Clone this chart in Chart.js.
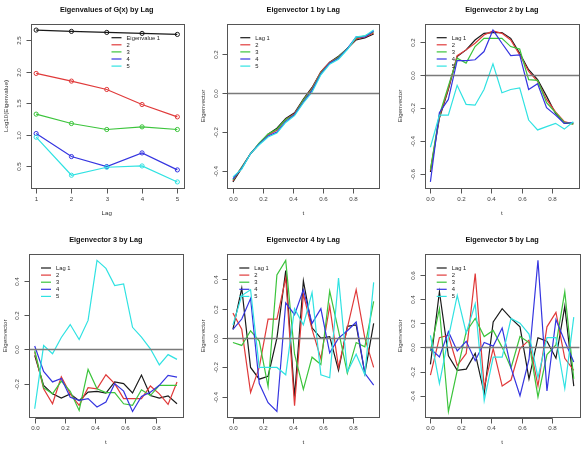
<!DOCTYPE html>
<html>
<head>
<meta charset="utf-8">
<script src="https://cdn.jsdelivr.net/npm/chart.js@4/dist/chart.umd.min.js"></script>
<style>
    body { margin: 0; background: #ffffff; }
    #board { position: relative; width: 582px; height: 450px; overflow: hidden; background: #ffffff; }
    #board canvas { position: absolute; }
</style>
</head>
<body>
<div id="board"></div>
<script>
// Data
const lagLabels = ['Lag 1', '2', '3', '4', '5'];
const eigenLabels = ['Eigenvalue 1', '2', '3', '4', '5'];
const lagColors = ['#1a1a1a', '#e03a3a', '#3cc43c', '#3535e0', '#30e2e2'];

const lagValues = [1, 2, 3, 4, 5];
const logEigen1 = [2.664, 2.643, 2.627, 2.611, 2.595];
const logEigen2 = [1.975, 1.853, 1.720, 1.481, 1.285];
const logEigen3 = [1.328, 1.179, 1.084, 1.126, 1.084];
const logEigen4 = [1.020, 0.654, 0.495, 0.712, 0.442];
const logEigen5 = [0.962, 0.357, 0.484, 0.505, 0.251];

const tValues = [0.000, 0.059, 0.118, 0.176, 0.235, 0.294, 0.353, 0.412, 0.471,
                 0.529, 0.588, 0.647, 0.706, 0.765, 0.824, 0.882, 0.941];

const vector1ByLag = [
    [-0.456, -0.385, -0.31, -0.26, -0.21, -0.18, -0.13, -0.10, -0.03, 0.03, 0.11, 0.16, 0.19, 0.23, 0.275, 0.285, 0.305],
    [-0.450, -0.380, -0.31, -0.26, -0.215, -0.19, -0.135, -0.105, -0.035, 0.025, 0.11, 0.16, 0.185, 0.23, 0.28, 0.29, 0.31],
    [-0.445, -0.380, -0.31, -0.255, -0.21, -0.185, -0.135, -0.11, -0.035, 0.02, 0.105, 0.155, 0.185, 0.23, 0.285, 0.295, 0.315],
    [-0.440, -0.385, -0.31, -0.26, -0.22, -0.20, -0.145, -0.11, -0.045, 0.015, 0.10, 0.155, 0.18, 0.23, 0.29, 0.29, 0.32],
    [-0.430, -0.390, -0.31, -0.265, -0.225, -0.205, -0.15, -0.115, -0.05, 0.005, 0.095, 0.15, 0.175, 0.225, 0.29, 0.295, 0.325]
];
const vector2ByLag = [
    [-0.59, -0.265, -0.09, 0.11, 0.15, 0.21, 0.25, 0.255, 0.255, 0.22, 0.13, 0.03, -0.03, -0.13, -0.235, -0.295, -0.295],
    [-0.58, -0.255, -0.085, 0.115, 0.15, 0.19, 0.24, 0.265, 0.25, 0.21, 0.12, 0.02, -0.04, -0.15, -0.225, -0.285, -0.30],
    [-0.575, -0.245, -0.07, 0.10, 0.07, 0.17, 0.22, 0.22, 0.22, 0.17, 0.155, -0.03, -0.035, -0.17, -0.23, -0.29, -0.30],
    [-0.65, -0.23, -0.15, 0.085, 0.085, 0.09, 0.14, 0.27, 0.19, 0.115, 0.12, -0.09, -0.055, -0.20, -0.245, -0.295, -0.29],
    [-0.44, -0.245, -0.245, -0.065, -0.18, -0.185, -0.09, 0.065, -0.11, -0.09, -0.08, -0.275, -0.335, -0.315, -0.295, -0.33, -0.285]
];
const vector3ByLag = [
    [-0.035, -0.21, -0.26, -0.285, -0.26, -0.30, -0.25, -0.245, -0.255, -0.19, -0.20, -0.255, -0.15, -0.27, -0.285, -0.272, -0.318],
    [-0.015, -0.23, -0.318, -0.16, -0.26, -0.327, -0.224, -0.23, -0.148, -0.20, -0.288, -0.288, -0.288, -0.214, -0.26, -0.322, -0.19],
    [-0.006, -0.224, -0.26, -0.185, -0.245, -0.357, -0.117, -0.23, -0.253, -0.253, -0.318, -0.327, -0.236, -0.27, -0.21, -0.21, -0.21],
    [0.02, -0.129, -0.19, -0.17, -0.28, -0.298, -0.288, -0.337, -0.308, -0.20, -0.244, -0.363, -0.275, -0.25, -0.21, -0.152, -0.162],
    [-0.347, 0.023, -0.025, 0.07, 0.146, 0.058, 0.17, 0.522, 0.475, 0.374, 0.384, 0.13, 0.072, 0.004, -0.09, -0.03, -0.058]
];
const vector4ByLag = [
    [0.06, 0.34, -0.20, -0.28, -0.26, 0.00, 0.46, -0.40, 0.39, 0.07, 0.00, 0.01, -0.22, 0.08, 0.09, -0.24, 0.10],
    [0.17, 0.06, -0.37, -0.20, 0.13, 0.13, 0.41, -0.46, 0.30, 0.06, -0.14, 0.22, -0.20, 0.07, 0.33, 0.00, -0.20],
    [-0.03, -0.05, 0.05, -0.02, -0.33, 0.43, 0.53, -0.11, -0.35, -0.13, -0.18, 0.32, 0.05, -0.24, -0.03, -0.06, 0.25],
    [0.06, 0.13, 0.27, -0.31, -0.44, -0.50, 0.24, 0.16, 0.33, 0.10, 0.20, -0.10, 0.00, 0.05, 0.11, -0.24, -0.32],
    [0.09, 0.29, 0.33, -0.20, -0.20, -0.20, -0.25, 0.20, 0.09, 0.31, -0.25, -0.27, 0.41, -0.23, -0.11, -0.25, 0.38]
];
const vector5ByLag = [
    [-0.14, 0.46, -0.07, -0.19, -0.18, -0.05, -0.38, 0.21, 0.32, 0.24, 0.17, -0.26, 0.08, 0.05, -0.09, 0.34, -0.32],
    [-0.23, 0.08, 0.10, -0.15, -0.05, 0.61, -0.33, -0.01, -0.32, -0.27, -0.01, 0.06, -0.32, 0.17, 0.29, -0.09, -0.19],
    [-0.03, 0.32, -0.53, -0.19, 0.13, 0.24, 0.09, 0.14, 0.00, -0.17, 0.09, 0.04, -0.41, -0.06, 0.02, 0.46, -0.26],
    [-0.01, -0.08, 0.13, -0.03, 0.05, -0.11, 0.04, 0.01, 0.16, -0.17, -0.40, -0.10, 0.72, -0.36, 0.23, 0.05, -0.12],
    [0.10, -0.30, 0.08, 0.43, 0.12, 0.36, -0.44, -0.08, -0.08, 0.24, 0.20, 0.11, -0.25, 0.08, 0.08, -0.34, 0.25]
];

// Tick labels
const lagTicks = [1, 2, 3, 4, 5];
const logEigenTicks = [0.5, 1.0, 1.5, 2.0, 2.5];
const tTicks = [0.0, 0.2, 0.4, 0.6, 0.8];
const vector1Ticks = [-0.4, -0.2, 0.0, 0.2];
const vector2Ticks = [-0.6, -0.4, -0.2, 0.0, 0.2];
const vector3Ticks = [-0.2, 0.0, 0.2, 0.4];
const vector4Ticks = [-0.4, -0.2, 0.0, 0.2, 0.4];
const vector5Ticks = [-0.4, -0.2, 0.0, 0.2, 0.4, 0.6];

const FONT = '"Liberation Sans", Arial, Helvetica, sans-serif';

// R style range: data range stretched by 4% on each side
function rRange(values) {
    const lo = Math.min(...values);
    const hi = Math.max(...values);
    const pad = (hi - lo) * 0.04;
    return [lo - pad, hi + pad];
}

function makeRPlugin(panel) {
    return {
        id: 'rStyle',
        afterDatasetsDraw(chart) {
            if (!panel.zeroLine) return;
            const ctx = chart.ctx;
            const area = chart.chartArea;
            const y = Math.round(chart.scales.y.getPixelForValue(0)) + 0.5;
            ctx.save();
            ctx.strokeStyle = '#7a7a7a';
            ctx.lineWidth = 1.6;
            ctx.beginPath();
            ctx.moveTo(area.left, y);
            ctx.lineTo(area.right, y);
            ctx.stroke();
            ctx.restore();
        },
        afterDraw(chart) {
            const ctx = chart.ctx;
            const area = chart.chartArea;
            const xs = chart.scales.x;
            const ys = chart.scales.y;
            ctx.save();

            // box
            ctx.strokeStyle = '#555';
            ctx.lineWidth = 1;
            ctx.strokeRect(Math.round(area.left) + 0.5, Math.round(area.top) + 0.5,
                Math.round(area.right - area.left), Math.round(area.bottom - area.top));

            // bottom axis
            const by = Math.round(area.bottom) + 0.5;
            const xPix = panel.xTicks.map(v => Math.round(xs.getPixelForValue(v)) + 0.5);
            ctx.beginPath();
            ctx.moveTo(xPix[0], by);
            ctx.lineTo(xPix[xPix.length - 1], by);
            xPix.forEach(px => { ctx.moveTo(px, by); ctx.lineTo(px, by + 5); });
            ctx.stroke();
            ctx.fillStyle = '#444';
            ctx.font = '6.2px ' + FONT;
            ctx.textAlign = 'center';
            ctx.textBaseline = 'middle';
            panel.xTicks.forEach((v, i) => ctx.fillText(panel.xFmt(v), xPix[i], area.bottom + 11));

            // left axis
            const lx = Math.round(area.left) + 0.5;
            const yPix = panel.yTicks.map(v => Math.round(ys.getPixelForValue(v)) + 0.5);
            ctx.beginPath();
            ctx.moveTo(lx, yPix[0]);
            ctx.lineTo(lx, yPix[yPix.length - 1]);
            yPix.forEach(py => { ctx.moveTo(lx, py); ctx.lineTo(lx - 5, py); });
            ctx.stroke();
            panel.yTicks.forEach((v, i) => {
                ctx.save();
                ctx.translate(area.left - 11.5, yPix[i]);
                ctx.rotate(-Math.PI / 2);
                ctx.fillText(v.toFixed(1), 0, 0);
                ctx.restore();
            });

            // axis titles
            ctx.fillStyle = '#333';
            ctx.fillText(panel.xTitle, (area.left + area.right) / 2, area.bottom + 25);
            ctx.save();
            ctx.translate(area.left - 24, (area.top + area.bottom) / 2);
            ctx.rotate(-Math.PI / 2);
            ctx.fillText(panel.yTitle, 0, 0);
            ctx.restore();

            // main title
            ctx.fillStyle = '#111';
            ctx.font = 'bold 7.3px ' + FONT;
            ctx.fillText(panel.title, (area.left + area.right) / 2, area.top - 14);

            // legend (no box)
            ctx.font = '5.8px ' + FONT;
            ctx.textAlign = 'left';
            panel.legend.forEach((label, i) => {
                const y = area.top + 13.7 + i * 7.1;
                const x0 = area.left + panel.legendX;
                ctx.strokeStyle = lagColors[i];
                ctx.lineWidth = 1.2;
                ctx.beginPath();
                ctx.moveTo(x0, y);
                ctx.lineTo(x0 + 10, y);
                ctx.stroke();
                ctx.fillStyle = '#222';
                ctx.fillText(label, x0 + 15, y + 0.3);
            });
            ctx.restore();
        }
    };
}

const panels = [
    {
        left: 0, top: 0, pad: { left: 30.5, top: 24, right: 11, bottom: 37 },
        title: 'Eigenvalues of G(x) by Lag', xTitle: 'Lag', yTitle: 'Log10(Eigenvalue)',
        x: lagValues, series: [logEigen1, logEigen2, logEigen3, logEigen4, logEigen5],
        xTicks: lagTicks, yTicks: logEigenTicks, xFmt: v => String(v),
        legend: eigenLabels, legendX: 81, points: true, zeroLine: false
    },
    {
        left: 194, top: 0, pad: { left: 33.3, top: 24, right: 8.7, bottom: 37 },
        title: 'Eigenvector 1 by Lag', xTitle: 't', yTitle: 'Eigenvector',
        x: tValues, series: vector1ByLag,
        xTicks: tTicks, yTicks: vector1Ticks, xFmt: v => v.toFixed(1),
        legend: lagLabels, legendX: 13, points: false, zeroLine: true
    },
    {
        left: 388, top: 0, pad: { left: 36.7, top: 24, right: 3, bottom: 37 },
        title: 'Eigenvector 2 by Lag', xTitle: 't', yTitle: 'Eigenvector',
        x: tValues, series: vector2ByLag,
        xTicks: tTicks, yTicks: vector2Ticks, xFmt: v => v.toFixed(1),
        legend: lagLabels, legendX: 12, points: false, zeroLine: true
    },
    {
        left: 0, top: 225, pad: { left: 29, top: 29.3, right: 11.3, bottom: 32.5 },
        title: 'Eigenvector 3 by Lag', xTitle: 't', yTitle: 'Eigenvector',
        x: tValues, series: vector3ByLag,
        xTicks: tTicks, yTicks: vector3Ticks, xFmt: v => v.toFixed(1),
        legend: lagLabels, legendX: 12, points: false, zeroLine: true
    },
    {
        left: 194, top: 225, pad: { left: 33.3, top: 29.3, right: 8.7, bottom: 32.5 },
        title: 'Eigenvector 4 by Lag', xTitle: 't', yTitle: 'Eigenvector',
        x: tValues, series: vector4ByLag,
        xTicks: tTicks, yTicks: vector4Ticks, xFmt: v => v.toFixed(1),
        legend: lagLabels, legendX: 12, points: false, zeroLine: true
    },
    {
        left: 388, top: 225, pad: { left: 36.7, top: 29.3, right: 2.5, bottom: 32.5 },
        title: 'Eigenvector 5 by Lag', xTitle: 't', yTitle: 'Eigenvector',
        x: tValues, series: vector5ByLag,
        xTicks: tTicks, yTicks: vector5Ticks, xFmt: v => v.toFixed(1),
        legend: lagLabels, legendX: 12, points: false, zeroLine: true
    }
];

function buildPanel(panel) {
    const canvas = document.createElement('canvas');
    canvas.width = 194;
    canvas.height = 225;
    canvas.style.left = panel.left + 'px';
    canvas.style.top = panel.top + 'px';
    document.getElementById('board').appendChild(canvas);

    const xRange = rRange(panel.x);
    const yRange = rRange(panel.series.flat());

    const datasets = panel.series.map((values, i) => ({
        label: panel.legend[i],
        data: values.map((v, k) => ({ x: panel.x[k], y: v })),
        borderColor: lagColors[i],
        backgroundColor: 'rgba(0,0,0,0)',
        borderWidth: 1.2,
        tension: 0,
        pointRadius: panel.points ? 2.1 : 0,
        pointBorderWidth: 1,
        pointBorderColor: lagColors[i],
        pointBackgroundColor: 'rgba(0,0,0,0)',
        order: -i
    }));

    new Chart(canvas.getContext('2d'), {
        type: 'line',
        data: { datasets: datasets },
        options: {
            responsive: false,
            animation: false,
            devicePixelRatio: 1,
            layout: { padding: panel.pad },
            plugins: {
                legend: { display: false },
                title: { display: false },
                tooltip: { enabled: false }
            },
            scales: {
                x: { type: 'linear', display: false, min: xRange[0], max: xRange[1] },
                y: { type: 'linear', display: false, min: yRange[0], max: yRange[1] }
            }
        },
        plugins: [makeRPlugin(panel)]
    });
}

document.addEventListener('DOMContentLoaded', function() {
    panels.forEach(buildPanel);
});
</script>
</body>
</html>
